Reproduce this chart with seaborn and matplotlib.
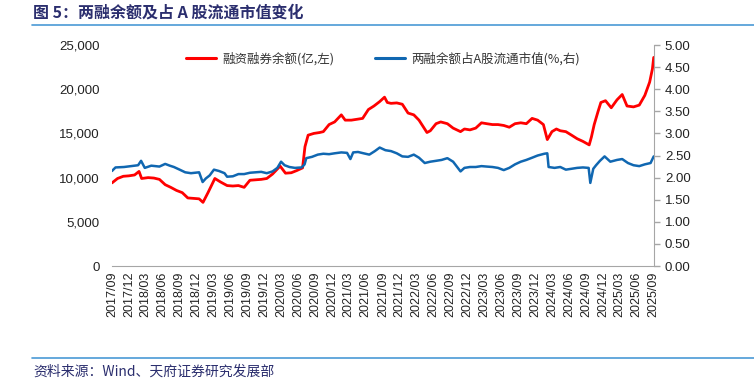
import pandas as pd
import matplotlib.pyplot as plt
import matplotlib.dates as mdates
from matplotlib.lines import Line2D
import seaborn as sns

# 两融余额（亿元，左轴）
margin_dates = [
    "2017-09-01", "2017-10-01", "2017-11-01", "2017-12-01", "2018-01-01", "2018-01-25",
    "2018-02-08", "2018-03-15", "2018-04-15", "2018-05-15", "2018-06-15", "2018-07-15",
    "2018-08-15", "2018-09-15", "2018-10-15", "2018-11-15", "2018-12-15", "2019-01-05",
    "2019-02-01", "2019-03-10", "2019-04-10", "2019-05-15", "2019-06-15", "2019-07-15",
    "2019-08-15", "2019-09-15", "2019-10-15", "2019-11-15", "2019-12-15", "2020-01-15",
    "2020-02-25", "2020-03-25", "2020-04-25", "2020-05-25", "2020-06-25", "2020-07-08",
    "2020-07-25", "2020-08-25", "2020-09-25", "2020-10-15", "2020-11-15", "2020-12-15",
    "2021-01-20", "2021-02-10", "2021-03-15", "2021-04-15", "2021-05-15", "2021-06-15",
    "2021-07-15", "2021-08-15", "2021-09-10", "2021-09-25", "2021-10-15", "2021-11-15",
    "2021-12-15", "2022-01-15", "2022-02-15", "2022-03-15", "2022-04-27", "2022-05-15",
    "2022-06-15", "2022-07-10", "2022-08-15", "2022-09-15", "2022-10-25", "2022-11-15",
    "2022-12-15", "2023-01-15", "2023-02-15", "2023-03-15", "2023-04-15", "2023-05-15",
    "2023-06-15", "2023-07-15", "2023-08-15", "2023-09-15", "2023-10-15", "2023-11-15",
    "2023-12-15", "2024-01-15", "2024-02-05", "2024-03-01", "2024-03-25", "2024-04-15",
    "2024-05-15", "2024-06-15", "2024-07-15", "2024-08-15", "2024-09-18", "2024-09-30",
    "2024-10-15", "2024-11-05", "2024-11-20", "2024-12-15", "2025-01-15", "2025-02-15",
    "2025-03-15", "2025-04-10", "2025-05-15", "2025-06-15", "2025-07-15", "2025-08-10",
    "2025-08-25", "2025-09-01",
]
margin_balance = [
    9400, 9900, 10150, 10200, 10300, 10700,
    9900, 10000, 9950, 9800, 9200, 8900,
    8550, 8300, 7700, 7650, 7600, 7200,
    8300, 9900, 9500, 9100, 9050, 9100,
    8900, 9700, 9750, 9800, 9900, 10400,
    11300, 10500, 10550, 10800, 11100, 13500,
    14800, 15000, 15100, 15200, 16000, 16300,
    17100, 16500, 16500, 16600, 16700, 17700,
    18100, 18600, 19100, 18500, 18400, 18450,
    18300, 17300, 17100, 16500, 15100, 15300,
    16100, 16300, 16100, 15600, 15200, 15500,
    15400, 15600, 16200, 16100, 16000, 16000,
    15900, 15700, 16100, 16200, 16100, 16700,
    16500, 16000, 14300, 15200, 15500, 15300,
    15200, 14800, 14400, 14100, 13700, 14600,
    16000, 17500, 18500, 18700, 17900, 18800,
    19400, 18100, 18000, 18200, 19300, 20800,
    22300, 23600,
]

# 两融余额占A股流通市值（%，右轴）
ratio_dates = [
    "2017-09-01", "2017-09-20", "2017-11-05", "2018-01-20", "2018-02-05", "2018-02-25",
    "2018-04-01", "2018-05-15", "2018-06-15", "2018-07-10", "2018-08-01", "2018-09-01",
    "2018-10-01", "2018-11-01", "2018-12-15", "2019-01-03", "2019-01-20", "2019-02-10",
    "2019-03-05", "2019-04-01", "2019-05-01", "2019-05-15", "2019-06-15", "2019-07-15",
    "2019-08-15", "2019-09-15", "2019-10-15", "2019-11-15", "2019-12-15", "2020-01-15",
    "2020-02-10", "2020-03-01", "2020-03-20", "2020-04-15", "2020-05-15", "2020-06-20",
    "2020-07-06", "2020-07-15", "2020-08-15", "2020-09-15", "2020-10-15", "2020-11-15",
    "2020-12-15", "2021-01-20", "2021-02-20", "2021-03-10", "2021-03-25", "2021-04-20",
    "2021-05-20", "2021-06-20", "2021-07-20", "2021-08-15", "2021-09-15", "2021-10-15",
    "2021-11-15", "2021-12-15", "2022-01-15", "2022-02-15", "2022-03-15", "2022-04-15",
    "2022-05-15", "2022-06-15", "2022-07-15", "2022-08-15", "2022-09-15", "2022-10-25",
    "2022-11-15", "2022-12-15", "2023-01-15", "2023-02-15", "2023-03-15", "2023-04-15",
    "2023-05-15", "2023-06-15", "2023-07-15", "2023-08-15", "2023-09-15", "2023-10-15",
    "2023-11-15", "2023-12-15", "2024-01-20", "2024-02-05", "2024-02-12", "2024-03-15",
    "2024-04-15", "2024-05-15", "2024-06-15", "2024-07-15", "2024-08-15", "2024-09-15",
    "2024-09-24", "2024-10-10", "2024-10-25", "2024-11-15", "2024-12-10", "2025-01-10",
    "2025-02-15", "2025-03-15", "2025-04-15", "2025-05-15", "2025-06-15", "2025-07-15",
    "2025-08-15", "2025-09-01",
]
margin_ratio = [
    2.15, 2.23, 2.24, 2.28, 2.38, 2.22,
    2.27, 2.25, 2.31, 2.27, 2.24, 2.18,
    2.12, 2.10, 2.12, 1.90, 1.98, 2.05,
    2.18, 2.15, 2.10, 2.02, 2.03, 2.08,
    2.08, 2.11, 2.12, 2.13, 2.10, 2.14,
    2.22, 2.36, 2.28, 2.24, 2.22, 2.23,
    2.30, 2.44, 2.47, 2.52, 2.54, 2.53,
    2.55, 2.57, 2.56, 2.42, 2.57, 2.58,
    2.55, 2.52, 2.60, 2.68, 2.62, 2.60,
    2.55, 2.48, 2.47, 2.52, 2.45, 2.33,
    2.36, 2.38, 2.40, 2.44, 2.36, 2.14,
    2.22, 2.24, 2.24, 2.26, 2.25, 2.24,
    2.22, 2.17, 2.22, 2.30, 2.36, 2.40,
    2.45, 2.50, 2.54, 2.55, 2.24, 2.22,
    2.24, 2.18, 2.20, 2.22, 2.23, 2.22,
    1.88, 2.20, 2.28, 2.38, 2.48, 2.36,
    2.40, 2.42, 2.33, 2.28, 2.26, 2.30,
    2.33, 2.48,
]

left_ticks = [0, 5000, 10000, 15000, 20000, 25000]
right_ticks = [0, 0.5, 1.0, 1.5, 2.0, 2.5, 3.0, 3.5, 4.0, 4.5, 5.0]

RED = "#FF0000"
BLUE = "#1067B1"
NAVY = "#2B2E6E"
RULE = "#4A9AD6"
GREY = "#A6A6A6"
CJK = ["Noto Sans CJK SC", "DejaVu Sans"]
NUM = ["Liberation Sans", "DejaVu Sans"]

sns.set_style("white")
plt.rcParams["font.family"] = CJK

fig = plt.figure(figsize=(7.54, 3.88), dpi=100)
ax = fig.add_axes([0.1485, 0.3144, 0.7185, 0.5696])
ax2 = ax.twinx()

df_m = pd.DataFrame({"date": pd.to_datetime(margin_dates), "value": margin_balance})
df_r = pd.DataFrame({"date": pd.to_datetime(ratio_dates), "value": margin_ratio})

sns.lineplot(data=df_m, x="date", y="value", ax=ax, color=RED, linewidth=2.0)
sns.lineplot(data=df_r, x="date", y="value", ax=ax2, color=BLUE, linewidth=1.8)

ax.set_xlim(pd.Timestamp("2017-09-01"), pd.Timestamp("2025-09-01"))
ax.set_ylim(0, 25000)
ax2.set_ylim(0, 5.0)

ax.xaxis.set_major_locator(mdates.MonthLocator(bymonth=[3, 6, 9, 12]))
ax.xaxis.set_major_formatter(mdates.DateFormatter("%Y/%m"))
ax.set_yticks(left_ticks)
ax.set_yticklabels([f"{v:,}" for v in left_ticks])
ax2.set_yticks(right_ticks)
ax2.set_yticklabels([f"{v:.2f}" for v in right_ticks])

for a in (ax, ax2):
    a.set_xlabel("")
    a.set_ylabel("")
    for s in a.spines.values():
        s.set_visible(False)
ax.spines["bottom"].set_visible(True)
ax.spines["bottom"].set_color(GREY)
ax2.spines["right"].set_visible(True)
ax2.spines["right"].set_color(GREY)

ax.tick_params(axis="x", length=0, pad=4, labelsize=9, rotation=90, labelcolor="#222222")
ax.tick_params(axis="y", length=0, pad=9, labelsize=9.5, labelcolor="#222222")
ax2.tick_params(axis="y", length=4, width=1, color=GREY, pad=4, labelsize=9.5,
                labelcolor="#222222", direction="out")
for lbl in ax.get_xticklabels() + ax.get_yticklabels() + ax2.get_yticklabels():
    lbl.set_family(NUM)

handles = [Line2D([], [], color=RED, linewidth=2.2), Line2D([], [], color=BLUE, linewidth=2.2)]
labels = ["融资融券余额(亿,左)", "两融余额占A股流通市值(%,右)"]
ax2.legend(handles, labels, loc="center", bbox_to_anchor=(0.5, 0.937), ncol=2,
           frameon=False, fontsize=9, handlelength=2.4, columnspacing=3.2,
           handletextpad=0.5, labelcolor="#333333")

# title, rules and source
fig.text(33 / 754, 1 - 13 / 388, "图 5：两融余额及占 A 股流通市值变化", fontsize=11.5,
         fontweight="bold", color=NAVY, va="center", ha="left", family=CJK)
fig.add_artist(Line2D([32 / 754, 1.0], [1 - 25 / 388] * 2, color=RULE, linewidth=1.2))
fig.add_artist(Line2D([32 / 754, 1.0], [1 - 358 / 388] * 2, color=RULE, linewidth=1.2))
fig.text(33 / 754, 1 - 372 / 388, "资料来源：Wind、天府证券研究发展部", fontsize=10,
         color=NAVY, va="center", ha="left", family=CJK)

plt.savefig("out.png", dpi=100)
